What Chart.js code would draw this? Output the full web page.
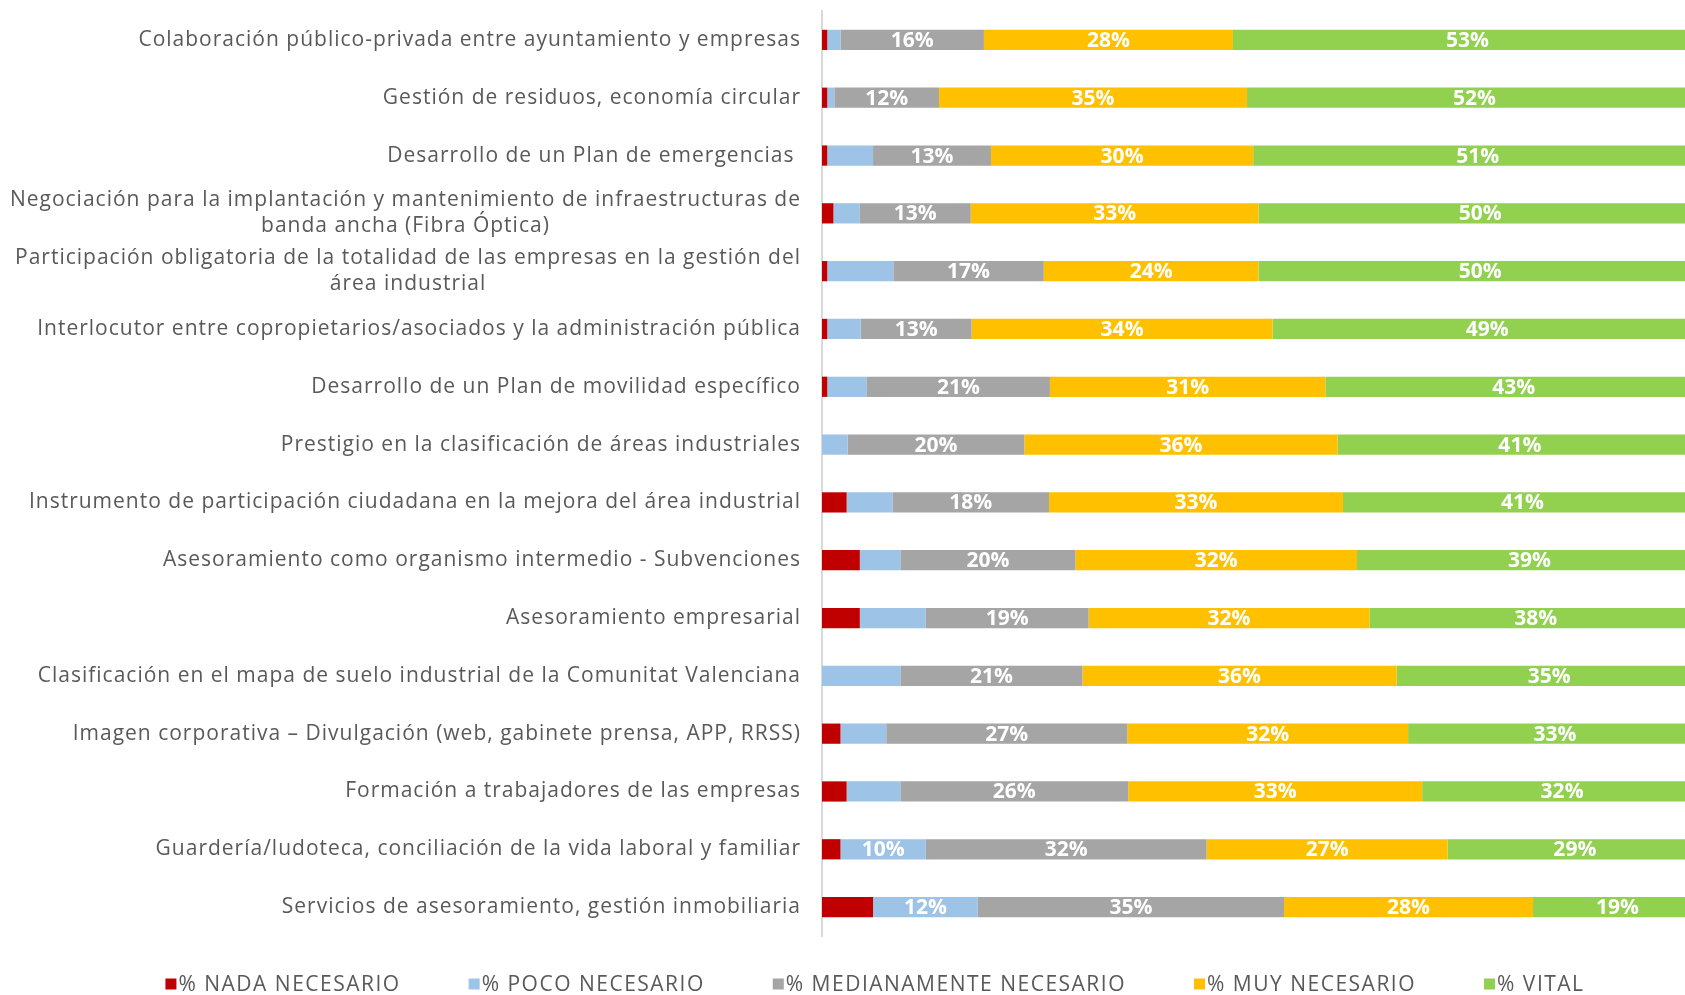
<!DOCTYPE html>
<html>
<head>
<meta charset="utf-8">
<script src="https://cdn.jsdelivr.net/npm/chart.js@4.4.1/dist/chart.umd.min.js"></script>
<style>
  html, body { margin: 0; padding: 0; overflow: hidden; background: #fff; }
  #wrap { width: 1750px; height: 995px; }
</style>
</head>
<body>
<div id="wrap"><canvas id="chart" width="1750" height="995"></canvas></div>
<script>
const categories = [
    'Colaboración público-privada entre ayuntamiento y empresas',
    'Gestión de residuos, economía circular',
    'Desarrollo de un Plan de emergencias ',
    ['Negociación para la implantación y mantenimiento de infraestructuras de', 'banda ancha (Fibra Óptica)'],
    ['Participación obligatoria de la totalidad de las empresas en la gestión del', 'área industrial'],
    'Interlocutor entre copropietarios/asociados y la administración pública',
    'Desarrollo de un Plan de movilidad específico',
    'Prestigio en la clasificación de áreas industriales',
    'Instrumento de participación ciudadana en la mejora del área industrial',
    'Asesoramiento como organismo intermedio - Subvenciones',
    'Asesoramiento empresarial',
    'Clasificación en el mapa de suelo industrial de la Comunitat Valenciana',
    'Imagen corporativa – Divulgación (web, gabinete prensa, APP, RRSS)',
    'Formación a trabajadores de las empresas',
    'Guardería/ludoteca, conciliación de la vida laboral y familiar',
    'Servicios de asesoramiento, gestión inmobiliaria'
];

const nadaNecesario =   [0.6, 0.6, 0.6, 1.3, 0.6, 0.6, 0.6, 0,    2.8, 4.3, 4.3, 0,    2.1, 2.8, 2.1, 5.8];
const pocoNecesario =   [1.5, 0.8, 5.2, 3.0, 7.5, 3.8, 4.5, 2.9,  5.2, 4.6, 7.5, 8.9,  5.2, 6.1, 9.7, 11.9];
const medianamente =    [16.3, 11.9, 13.4, 12.6, 17.1, 12.6, 20.8, 20.1, 17.8, 19.9, 18.5, 20.7, 27.4, 25.9, 31.9, 34.8];
const muyNecesario =    [28.3, 35.0, 29.8, 32.7, 24.4, 34.2, 31.3, 35.6, 33.4, 32.0, 31.9, 35.7, 31.9, 33.4, 27.4, 28.3];
const vital =           [53.3, 51.7, 51.0, 50.4, 50.4, 48.8, 42.8, 41.4, 40.8, 39.2, 37.8, 34.7, 33.4, 31.8, 28.9, 19.2];

const seriesNames = ['% NADA NECESARIO', '% POCO NECESARIO', '% MEDIANAMENTE NECESARIO', '% MUY NECESARIO', '% VITAL'];
const seriesColors = ['#C00000', '#9DC3E6', '#A5A5A5', '#FFC000', '#92D050'];
const seriesValues = [nadaNecesario, pocoNecesario, medianamente, muyNecesario, vital];

const textColor = '#595959';
const fontFamily = '"Open Sans", "DejaVu Sans", sans-serif';

// white percentage labels inside the segments
const barLabels = {
    id: 'barLabels',
    afterDatasetsDraw(chart) {
        const ctx = chart.ctx;
        ctx.save();
        ctx.font = 'bold 21px ' + fontFamily;
        ctx.fillStyle = '#fff';
        ctx.textAlign = 'center';
        ctx.textBaseline = 'middle';
        chart.data.datasets.forEach((ds, di) => {
            const meta = chart.getDatasetMeta(di);
            meta.data.forEach((bar, i) => {
                const v = Math.round(ds.data[i]);
                if (v < 10) return;
                ctx.fillText(v + '%', (bar.x + bar.base) / 2, bar.y + 1);
            });
        });
        ctx.restore();
    }
};

// category labels, right aligned, wrapped lines centred under each other
const rowLabels = {
    id: 'rowLabels',
    afterDraw(chart) {
        const ctx = chart.ctx;
        const yScale = chart.scales.y;
        const right = chart.chartArea.left - 21;
        ctx.save();
        ctx.font = '21px ' + fontFamily;
        ctx.letterSpacing = '1px';
        ctx.fillStyle = textColor;
        ctx.textBaseline = 'middle';
        categories.forEach((label, i) => {
            const lines = Array.isArray(label) ? label : [label];
            const y = yScale.getPixelForValue(i);
            const maxW = Math.max(...lines.map(l => ctx.measureText(l).width));
            lines.forEach((line, k) => {
                const ly = y + (k - (lines.length - 1) / 2) * 26;
                if (lines.length === 1) {
                    ctx.textAlign = 'right';
                    ctx.fillText(line, right, ly);
                } else {
                    ctx.textAlign = 'center';
                    ctx.fillText(line, right - maxW / 2, ly);
                }
            });
        });
        ctx.restore();
    }
};

// legend row at the bottom
const bottomLegend = {
    id: 'bottomLegend',
    afterDraw(chart) {
        const ctx = chart.ctx;
        const box = 11, boxGap = 2, itemGap = 68;
        ctx.save();
        ctx.font = '21px ' + fontFamily;
        ctx.letterSpacing = '1.5px';
        ctx.textBaseline = 'middle';
        ctx.textAlign = 'left';
        const widths = chart.data.datasets.map(ds => box + boxGap + ctx.measureText(ds.label).width);
        const total = widths.reduce((a, b) => a + b, 0) + itemGap * (widths.length - 1);
        let x = chart.width / 2 - total / 2;
        const y = 984;
        chart.data.datasets.forEach((ds, i) => {
            ctx.fillStyle = ds.backgroundColor;
            ctx.fillRect(x, y - box / 2, box, box);
            ctx.fillStyle = textColor;
            ctx.fillText(ds.label, x + box + boxGap, y + 1);
            x += widths[i] + itemGap;
        });
        ctx.restore();
    }
};

new Chart(document.getElementById('chart').getContext('2d'), {
    type: 'bar',
    data: {
        labels: categories,
        datasets: seriesNames.map((name, i) => ({
            label: name,
            data: seriesValues[i],
            backgroundColor: seriesColors[i],
            borderWidth: 0,
            barPercentage: 0.35,
            categoryPercentage: 1
        }))
    },
    options: {
        indexAxis: 'y',
        responsive: false,
        animation: false,
        layout: { padding: { left: 822, top: 11, right: 48, bottom: 59 } },
        scales: {
            x: { stacked: true, min: 0, max: 100, display: false },
            y: {
                stacked: true,
                ticks: { display: false },
                grid: { display: true, drawOnChartArea: false, drawTicks: false },
                border: { display: true, color: '#D9D9D9', width: 2 }
            }
        },
        plugins: {
            legend: { display: false },
            tooltip: { enabled: false }
        }
    },
    plugins: [barLabels, rowLabels, bottomLegend]
});
</script>
</body>
</html>
